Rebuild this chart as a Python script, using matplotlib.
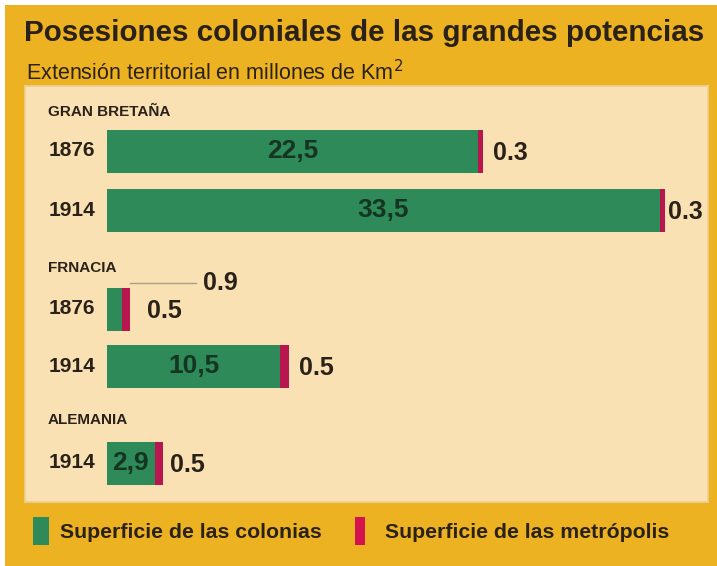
import numpy as np
import matplotlib.pyplot as plt
from matplotlib.patches import Rectangle

# Datos (millones de km2)
paises = ['GRAN BRETAÑA', 'FRNACIA', 'ALEMANIA']
anios = ['1876', '1914', '1876', '1914', '1914']
colonias = [22.5, 33.5, 0.9, 10.5, 2.9]
metropolis = [0.3, 0.3, 0.5, 0.5, 0.5]
etiq_colonias = ['22,5', '33,5', '0.9', '10,5', '2,9']
etiq_metro = ['0.3', '0.3', '0.5', '0.5', '0.5']

# Colores
naranja = '#ECB222'
beige = '#F9E1B4'
verde = '#2E8A59'
rojo = '#B7164F'
rojo_ley = '#D5134E'
texto = '#2A2119'

W, H = 717, 566
fig = plt.figure(figsize=(W/100, H/100), dpi=100)
fig.patch.set_facecolor('white')

def fx(px):
    return px / W

def fy(py):
    return 1 - py / H

# marco naranja
fig.patches.append(Rectangle((fx(5), 0), 1 - fx(5), fy(5), transform=fig.transFigure,
                             facecolor=naranja, edgecolor='none', zorder=-1))

fig.text(fx(24), fy(33), 'Posesiones coloniales de las grandes potencias',
         fontsize=21.3, fontweight='bold', color=texto, va='center', ha='left',
         family=['Liberation Sans', 'DejaVu Sans'])
fig.text(fx(26), fy(73), 'Extensión territorial en millones de Km$^{2}$',
         fontsize=15.5, color=texto, va='center', ha='left',
         family=['Liberation Sans Narrow', 'Liberation Sans', 'DejaVu Sans'])

# panel beige
x0, x1, y0, y1 = 25, 708, 86, 502
ax = fig.add_axes([fx(x0), fy(y1), fx(x1 - x0), (y1 - y0) / H])
ax.set_zorder(2)
ax.set_facecolor(beige)
for s in ax.spines.values():
    s.set_color('#EDCF92')
    s.set_linewidth(1.2)
ax.set_xticks([])
ax.set_yticks([])

escala = 16.5  # px por millon de km2
xb = 107       # inicio de las barras (px)
ax.set_xlim(-(xb - x0) / escala, (x1 - xb) / escala)
ax.set_ylim(y1 - y0, 0)

# posiciones verticales (px desde arriba del panel)
y_filas = [151 - y0, 210 - y0, 309 - y0, 366 - y0, 463 - y0]
y_paises = [112 - y0, 268 - y0, 420 - y0]
alto = 43
off_metro = [10, 3, 17, 11, 7]

fam = ['Liberation Sans', 'DejaVu Sans']

for i, p in enumerate(paises):
    ax.text(-(xb - 48) / escala, y_paises[i], p, fontsize=11, fontweight='bold',
            color=texto, va='center', ha='left', family=fam)

ax.barh(y_filas, colonias, height=alto, color=verde, edgecolor='none')
ax.barh(y_filas, metropolis, left=colonias, height=alto, color=rojo, edgecolor='none')

for i in range(len(anios)):
    ax.text(-(xb - 95) / escala, y_filas[i], anios[i], fontsize=15, fontweight='bold',
            color=texto, va='center', ha='right', family=fam)
    fin = colonias[i] + metropolis[i]
    if colonias[i] > 2:
        ax.text(colonias[i] / 2, y_filas[i], etiq_colonias[i], fontsize=19,
                fontweight='bold', color='#163422', va='center', ha='center', family=fam)
    else:
        # etiqueta con linea guia
        yl = 283 - y0
        ax.plot([fin, fin + 66 / escala], [yl, yl], color='#A89F86', lw=1)
        ax.annotate(etiq_colonias[i], (fin + 66 / escala, yl), xytext=(7, 0),
                    textcoords='offset pixels', fontsize=18, fontweight='bold',
                    color=texto, va='center', ha='left', family=fam)
    ax.annotate(etiq_metro[i], (fin, y_filas[i] + 2), xytext=(off_metro[i], 0),
                textcoords='offset pixels', fontsize=18, fontweight='bold',
                color=texto, va='center', ha='left', family=fam)

# leyenda
fig.patches.append(Rectangle((fx(33), fy(545)), fx(16), 28 / H, transform=fig.transFigure,
                             facecolor=verde, edgecolor='none'))
fig.text(fx(60), fy(533), 'Superficie de las colonias', fontsize=15.3, fontweight='bold',
         color=texto, va='center', ha='left', family=fam)
fig.patches.append(Rectangle((fx(355), fy(545)), fx(10), 28 / H, transform=fig.transFigure,
                             facecolor=rojo_ley, edgecolor='none'))
fig.text(fx(385), fy(533), 'Superficie de las metrópolis', fontsize=15.3, fontweight='bold',
         color=texto, va='center', ha='left', family=fam)

fig.savefig('out.png', dpi=100)
